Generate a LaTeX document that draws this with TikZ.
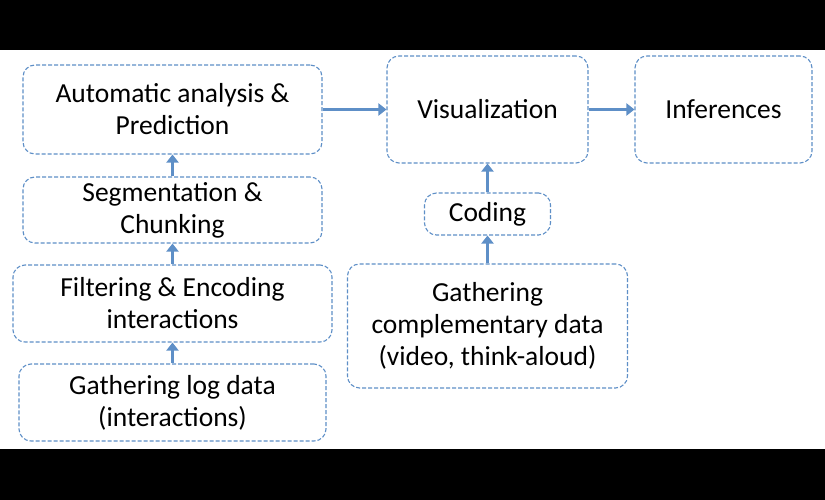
\documentclass[tikz,border=0pt]{standalone}
\usepackage{fontspec}
\setmainfont{Carlito}
\usetikzlibrary{arrows.meta}
\definecolor{flowblue}{RGB}{94,143,199}
\tikzstyle{blk}=[draw=flowblue, dash pattern=on 4pt off 2pt, line width=1.1pt, rounded corners=12pt, align=center, inner sep=0pt, font=\fontsize{27.5}{32}\selectfont]
\tikzstyle{flow}=[draw=flowblue, line width=3.6pt, -{Triangle[width=12pt,length=8pt]}]

\begin{document}
\begin{tikzpicture}[x=1pt, y=-1pt]
\useasboundingbox (0, 0) rectangle (825, 500);
\fill[white] (0, 0) rectangle (825, 500);
\fill[black] (0, 0) rectangle (825, 50);
\fill[black] (0, 449) rectangle (825, 500);

% left column
\draw (172.5, 109.5) node (auto) [blk, minimum width=299pt, minimum height=89pt] {Automatic analysis \&\\Prediction};
\draw (172.5, 210) node (seg) [blk, minimum width=299pt, minimum height=66pt] {Segmentation \&\\Chunking};
\draw (172.5, 303.5) node (filt) [blk, minimum width=319pt, minimum height=77pt] {Filtering \& Encoding\\interactions};
\draw (172.5, 402.5) node (logs) [blk, minimum width=307pt, minimum height=77pt] {Gathering log data\\(interactions)};

% right part
\draw (487.5, 109.5) node (vis) [blk, minimum width=201pt, minimum height=107pt] {Visualization};
\draw (723.5, 109.5) node (infer) [blk, minimum width=177pt, minimum height=107pt] {Inferences};
\draw (487.5, 214) node (coding) [blk, minimum width=126pt, minimum height=42pt] {Coding};
\draw (487.5, 326) node (compl) [blk, minimum width=280pt, minimum height=124pt] {Gathering\\complementary data\\(video, think-aloud)};

\draw (logs) -- (filt) [flow];
\draw (filt) -- (seg) [flow];
\draw (seg) -- (auto) [flow];
\draw (auto) -- (vis) [flow];
\draw (vis) -- (infer) [flow];
\draw (compl) -- (coding) [flow];
\draw (coding) -- (vis) [flow];

\end{tikzpicture}
\end{document}
